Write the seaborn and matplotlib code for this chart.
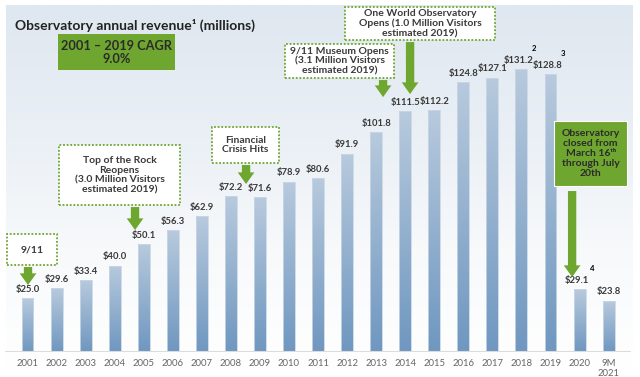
import numpy as np
import pandas as pd
import matplotlib
matplotlib.use("Agg")
import matplotlib.pyplot as plt
from matplotlib.patches import Rectangle
import seaborn as sns

# data
years = ["2001", "2002", "2003", "2004", "2005", "2006", "2007", "2008", "2009", "2010",
         "2011", "2012", "2013", "2014", "2015", "2016", "2017", "2018", "2019", "2020",
         "9M\n2021"]
revenue = [25.0, 29.6, 33.4, 40.0, 50.1, 56.3, 62.9, 72.2, 71.6, 78.9,
           80.6, 91.9, 101.8, 111.5, 112.2, 124.8, 127.1, 131.2, 128.8, 29.1, 23.8]
footnotes = {17: "2", 18: "3", 19: "4"}

df = pd.DataFrame({"year": years, "revenue": revenue})

sns.set_theme(style="white")
plt.rcParams["font.family"] = ["Lato", "DejaVu Sans"]

GREEN = "#6ea62f"
DARK = "#3a3a3a"

fig = plt.figure(figsize=(6.4, 3.77), dpi=100)

# background panel with vertical gradient
bg = fig.add_axes([0, 0, 1, 1])
bg.set_axis_off()
grad = np.linspace(0, 1, 256).reshape(-1, 1)
bg_cmap = matplotlib.colors.LinearSegmentedColormap.from_list(
    "bg", ["#dfe7f0", "#e9eff5", "#f7f9fb", "#ffffff"])
bg.imshow(grad, cmap=bg_cmap, aspect="auto",
          extent=[6 / 640, 633 / 640, 0.02, 1 - 6 / 377], zorder=0)
bg.set_xlim(0, 1)
bg.set_ylim(0, 1)

ax = fig.add_axes([0, 25 / 377, 1, 1 - 25 / 377])
ax.patch.set_alpha(0)
sns.barplot(data=df, x="year", y="revenue", width=0.41, color="#9ab3cf", ax=ax)
ax.set_xlim(-0.947, 21.08)
ax.set_ylim(0, 163)

# gradient fill inside the bars
bar_cmap = matplotlib.colors.LinearSegmentedColormap.from_list(
    "bar", ["#b8cadd", "#6f97c0"])
for p in ax.patches:
    x0, w, h = p.get_x(), p.get_width(), p.get_height()
    im = ax.imshow(grad, cmap=bar_cmap, aspect="auto",
                   extent=[x0, x0 + w, 0, h], zorder=2)
    im.set_clip_path(p)
    p.set_facecolor("none")
    p.set_edgecolor("#c9d7e6")
    p.set_linewidth(0.6)
    p.set_zorder(3)

# value labels
for i, v in enumerate(revenue):
    ax.annotate(f"${v:.1f}", (i - 0.1 if i in footnotes else i, v),
                xytext=(0, 3), textcoords="offset points",
                ha="center", va="bottom", fontsize=6.8, fontweight="bold", color=DARK)
    if i in footnotes:
        ax.annotate(footnotes[i], (i + 0.35, v), xytext=(0, 12), textcoords="offset points",
                    ha="left", va="bottom", fontsize=5.5, fontweight="bold", color="black")

ax.axhline(0, xmin=0.01, xmax=0.985, color="#dcdcdc", lw=1.5, zorder=4)
ax.set_xlabel("")
ax.set_ylabel("")
ax.set_yticks([])
ax.tick_params(axis="x", length=0, pad=5, labelsize=6.8, labelcolor="#666666")
for s in ax.spines.values():
    s.set_visible(False)

# title
fig.text(15 / 640, 1 - 25 / 377, "Observatory annual revenue¹ (millions)",
         fontsize=10, fontweight="bold", color="#222222", va="center")


def px(x, y):
    return (x - 27.5) / 29.05, (352 - y) / 2.16


def box(x0, y0, x1, y1, txt, fill=False):
    (a, b), (c, d) = px(x0, y1), px(x1, y0)
    if fill:
        ax.add_patch(Rectangle((a, b), c - a, d - b, fc=GREEN, ec="white", lw=0.8,
                               clip_on=False, zorder=6))
    else:
        ax.add_patch(Rectangle((a, b), c - a, d - b, fc="white", ec=GREEN, lw=1.3,
                               ls=(0, (1, 1)), clip_on=False, zorder=6))
    ax.text((a + c) / 2, (b + d) / 2, txt, ha="center", va="center", fontsize=7.5,
            fontweight="bold", color="#2b2b2b" if fill else DARK, linespacing=1.12, zorder=7)


def arrow(x, y0, y1):
    ax.annotate("", xy=px(x, y1), xytext=px(x, y0), zorder=6,
                arrowprops=dict(arrowstyle="simple,head_width=1.0,head_length=0.7,tail_width=0.5",
                                mutation_scale=12, color=GREEN, lw=0, shrinkA=0, shrinkB=0))


# CAGR box
ax.add_patch(Rectangle(px(58, 70), (175 - 58) / 29.05, 36 / 2.16, fc=GREEN, ec="none",
                       clip_on=False, zorder=6))
ax.text(*px(116.5, 52), "2001 – 2019 CAGR\n9.0%", ha="center", va="center",
        fontsize=9.2, fontweight="bold", color="#2b2b2b", linespacing=1.1, zorder=7)

box(7, 234, 57, 265, "9/11")
arrow(28, 267, 285)
box(59, 145, 180, 205, "Top of the Rock\nReopens\n(3.0 Million Visitors\nestimated 2019)")
arrow(135, 207, 230)
box(212, 127, 279, 163, "Financial\nCrisis Hits")
arrow(246, 165, 184)
box(285, 44, 394, 78, "9/11 Museum Opens\n(3.1 Million Visitors\nestimated 2019)")
arrow(383, 80, 97)
box(345, 7, 495, 40, "One World Observatory\nOpens (1.0 Million Visitors\nestimated 2019)")
arrow(410, 42, 94)
box(554, 121, 627, 186, "Observatory\nclosed from\nMarch 16ᵗʰ\nthrough July\n20th", fill=True)
arrow(572, 191, 277)

fig.savefig("out.png", dpi=100)
